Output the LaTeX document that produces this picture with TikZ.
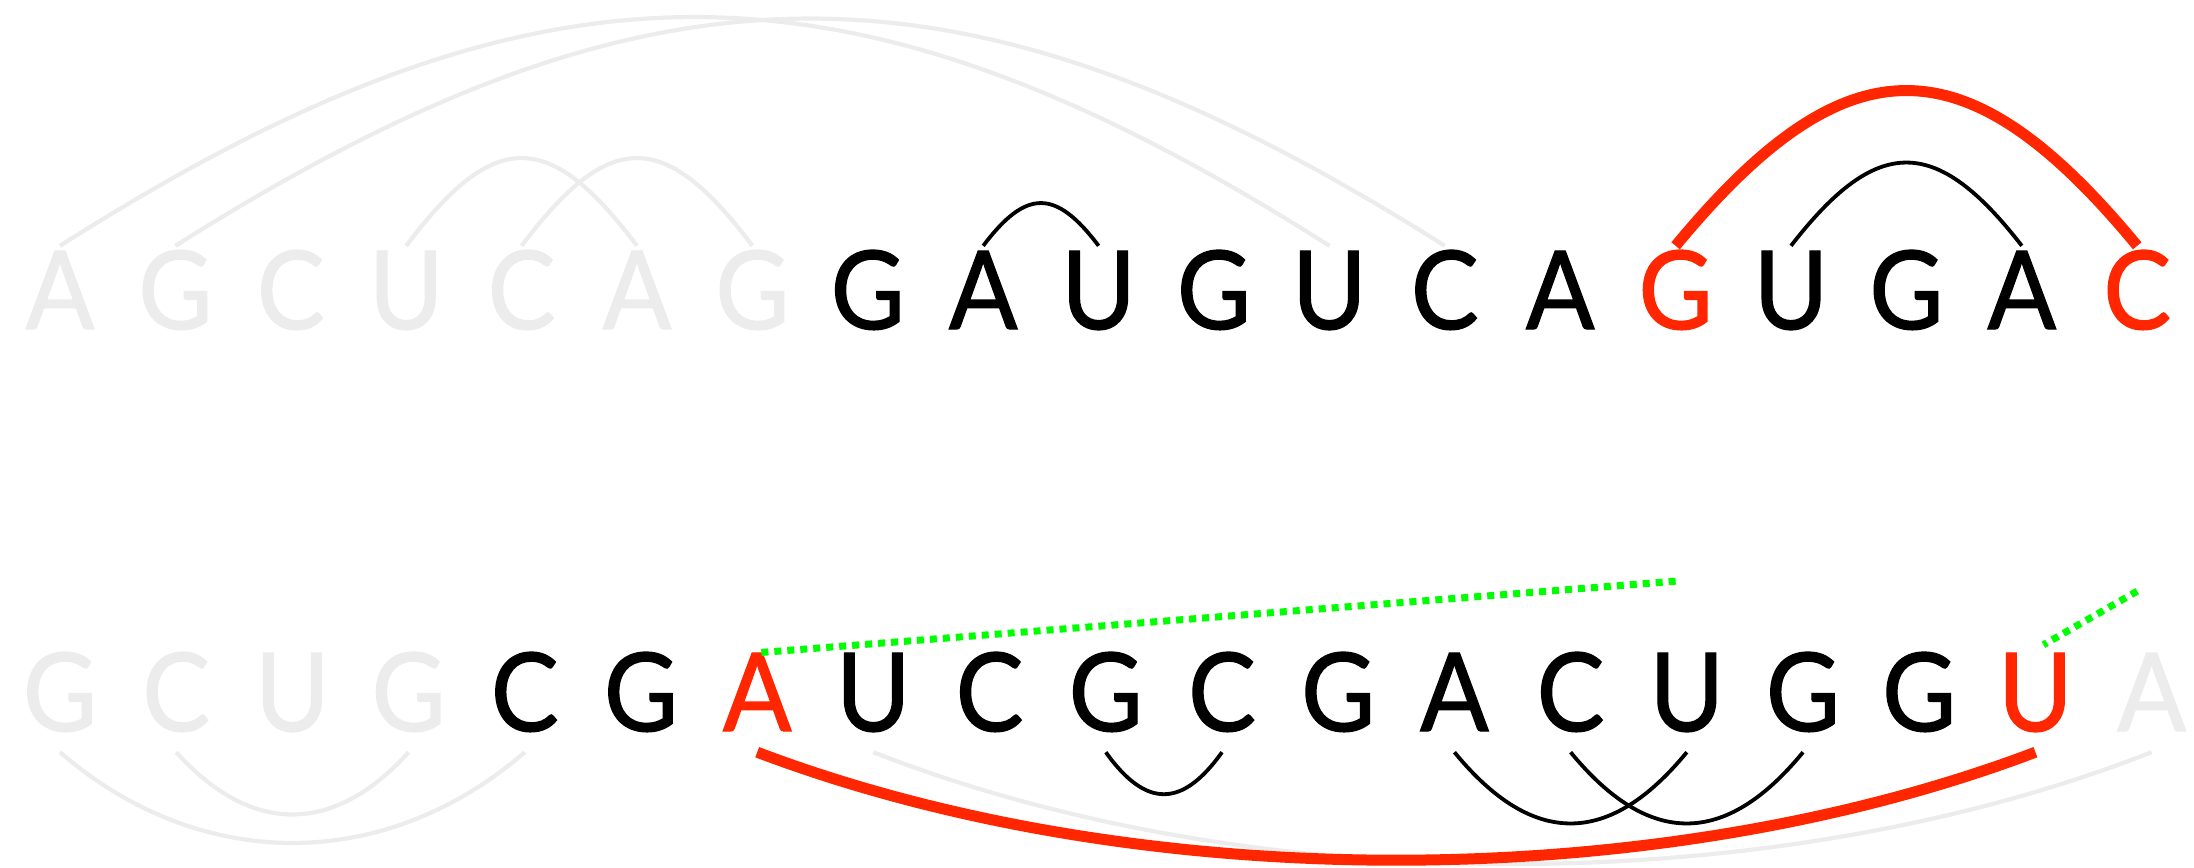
\documentclass[tikz,border=0pt]{standalone}
\usepackage{fontspec}
\setmainfont{Lato}
\newfontfamily\basefont{Lato}[FakeBold=1.2,FakeStretch=0.93]
\definecolor{faint}{RGB}{236,236,236}
\definecolor{hot}{RGB}{255,38,0}
\definecolor{pairgreen}{RGB}{0,255,0}
\begin{document}
\begin{tikzpicture}[x=1pt,y=-1pt,
  base/.style={anchor=base,inner sep=0pt,text height=78pt,text depth=0pt,
    font=\basefont\fontsize{109}{109}\selectfont},
  faintarc/.style={draw=faint,line width=4.2pt},
  darkarc/.style={draw=black,line width=3.8pt},
  hotarc/.style={draw=hot,line width=11pt},
  link/.style={draw=pairgreen,line width=7pt,dash pattern=on 7pt off 6pt}]
\useasboundingbox (0,0) rectangle (2194,867);

% upper strand
\foreach \l/\c [count=\i] in {A/faint,G/faint,C/faint,U/faint,C/faint,A/faint,G/faint,
  G/black,A/black,U/black,G/black,U/black,C/black,A/black,G/hot,U/black,G/black,A/black,C/hot}
  \node[base,text=\c] (t\i) at ({60+115.4*(\i-1)},329) {\l};

% lower strand
\foreach \l/\c [count=\i] in {G/faint,C/faint,U/faint,G/faint,C/black,G/black,A/hot,
  U/black,C/black,G/black,C/black,G/black,A/black,C/black,U/black,G/black,G/black,U/hot,A/faint}
  \node[base,text=\c] (b\i) at ({60+116.2*(\i-1)},731) {\l};

% arcs above the upper strand
\draw[faintarc] ([yshift=5pt]t1.north) .. controls +(480,-305) and +(-480,-305) .. ([yshift=5pt]t12.north);
\draw[faintarc] ([yshift=5pt]t2.north) .. controls +(480,-303) and +(-480,-303) .. ([yshift=5pt]t13.north);
\draw[faintarc] ([yshift=5pt]t4.north) .. controls +(88,-117) and +(-88,-117) .. ([yshift=5pt]t6.north);
\draw[faintarc] ([yshift=5pt]t5.north) .. controls +(88,-117) and +(-88,-117) .. ([yshift=5pt]t7.north);
\draw[darkarc] ([yshift=5pt]t9.north) .. controls +(43,-57) and +(-43,-57) .. ([yshift=5pt]t10.north);
\draw[hotarc] ([yshift=5pt]t15.north) .. controls +(171,-207) and +(-171,-207) .. ([yshift=5pt]t19.north);
\draw[darkarc] ([yshift=5pt]t16.north) .. controls +(86,-111) and +(-86,-111) .. ([yshift=5pt]t18.north);

% arcs below the lower strand
\draw[faintarc] ([yshift=-21pt]b1.south) .. controls +(140,121) and +(-140,121) .. ([yshift=-21pt]b5.south);
\draw[faintarc] ([yshift=-21pt]b2.south) .. controls +(75,83) and +(-75,83) .. ([yshift=-21pt]b4.south);
\draw[faintarc] ([yshift=-21pt]b8.south) .. controls +(380,149) and +(-380,149) .. ([yshift=-21pt]b19.south);
\draw[darkarc] ([yshift=-21pt]b10.south) .. controls +(40,56) and +(-40,56) .. ([yshift=-21pt]b11.south);
\draw[darkarc] ([yshift=-21pt]b13.south) .. controls +(78,95) and +(-78,95) .. ([yshift=-21pt]b15.south);
\draw[darkarc] ([yshift=-21pt]b14.south) .. controls +(78,95) and +(-78,95) .. ([yshift=-21pt]b16.south);
\draw[hotarc] ([yshift=-21pt]b7.south) .. controls +(380,144) and +(-380,144) .. ([yshift=-21pt]b18.south);

% interactions between the strands
\draw[link] ([yshift=-252pt]t15.south) -- (b7.north);
\draw[link] ([yshift=-262pt]t19.south) -- ([shift={(8pt,8pt)}]b18.north);
\end{tikzpicture}
\end{document}
